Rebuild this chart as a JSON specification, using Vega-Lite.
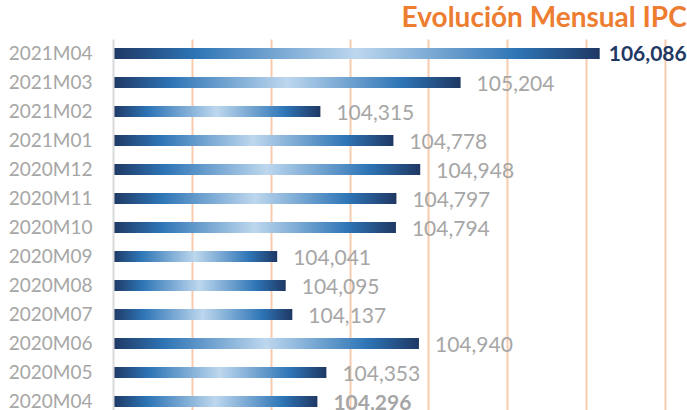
{
  "$schema": "https://vega.github.io/schema/vega-lite/v6.json",
  "width": 552,
  "height": 377,
  "autosize": {"type": "none"},
  "padding": {"left": 113, "top": 39, "right": 22, "bottom": 0},
  "background": "white",
  "config": {
    "view": {"stroke": null},
    "locale": {"number": {"decimal": ",", "thousands": ".", "grouping": [3], "currency": ["", " €"]}},
    "font": "Lato"
  },
  "title": {
    "text": "Evolución Mensual IPC",
    "anchor": "end",
    "color": "#ED7D31",
    "font": "Lato",
    "fontWeight": "bold",
    "fontSize": 28,
    "dx": 0,
    "offset": 6
  },
  "data": {
    "values": [
      {"mes": "2021M04", "ipc": 106.086},
      {"mes": "2021M03", "ipc": 105.204},
      {"mes": "2021M02", "ipc": 104.315},
      {"mes": "2021M01", "ipc": 104.778},
      {"mes": "2020M12", "ipc": 104.948},
      {"mes": "2020M11", "ipc": 104.797},
      {"mes": "2020M10", "ipc": 104.794},
      {"mes": "2020M09", "ipc": 104.041},
      {"mes": "2020M08", "ipc": 104.095},
      {"mes": "2020M07", "ipc": 104.137},
      {"mes": "2020M06", "ipc": 104.940},
      {"mes": "2020M05", "ipc": 104.353},
      {"mes": "2020M04", "ipc": 104.296}
    ]
  },
  "encoding": {
    "y": {
      "field": "mes",
      "type": "nominal",
      "sort": null,
      "scale": {"paddingInner": 0, "paddingOuter": 0},
      "axis": {
        "title": null,
        "ticks": false,
        "domainColor": "#D9D9D9",
        "domainWidth": 2,
        "labelColor": "#A6A6A6",
        "labelFont": "Lato",
        "labelFontSize": 19,
        "labelPadding": 21,
        "zindex": 1
      }
    },
    "x": {
      "field": "ipc",
      "type": "quantitative",
      "scale": {"domain": [103, 106.5], "zero": false, "nice": false},
      "axis": {
        "title": null,
        "labels": false,
        "ticks": false,
        "domain": false,
        "grid": true,
        "values": [103.5, 104, 104.5, 105, 105.5, 106, 106.5],
        "gridColor": "#F8CBAD",
        "gridWidth": 2
      }
    }
  },
  "layer": [
    {
      "mark": {
        "type": "bar",
        "size": 11,
        "clip": false,
        "color": {
          "gradient": "linear",
          "x1": 0, "y1": 0, "x2": 1, "y2": 0,
          "stops": [
            {"offset": 0, "color": "#1F3864"},
            {"offset": 0.17, "color": "#2E75B6"},
            {"offset": 0.5, "color": "#BDD7EE"},
            {"offset": 0.83, "color": "#2E75B6"},
            {"offset": 1, "color": "#1F3864"}
          ]
        }
      },
      "encoding": {"x2": {"datum": 103}}
    },
    {
      "transform": [{"filter": "datum.mes !== '2021M04' && datum.mes !== '2020M04'"}],
      "mark": {"type": "text", "align": "left", "baseline": "middle", "dx": 16, "dy": 2, "fontSize": 21, "color": "#A6A6A6", "font": "Lato"},
      "encoding": {"text": {"field": "ipc", "type": "quantitative", "format": ".3f"}}
    },
    {
      "transform": [{"filter": "datum.mes === '2021M04'"}],
      "mark": {"type": "text", "align": "left", "baseline": "middle", "dx": 9, "dy": 1, "fontSize": 21, "fontWeight": "bold", "color": "#1F3864", "font": "Lato"},
      "encoding": {"text": {"field": "ipc", "type": "quantitative", "format": ".3f"}}
    },
    {
      "transform": [{"filter": "datum.mes === '2020M04'"}],
      "mark": {"type": "text", "align": "left", "baseline": "middle", "dx": 16, "dy": 2, "fontSize": 21, "fontWeight": "bold", "color": "#A6A6A6", "font": "Lato"},
      "encoding": {"text": {"field": "ipc", "type": "quantitative", "format": ".3f"}}
    }
  ]
}
